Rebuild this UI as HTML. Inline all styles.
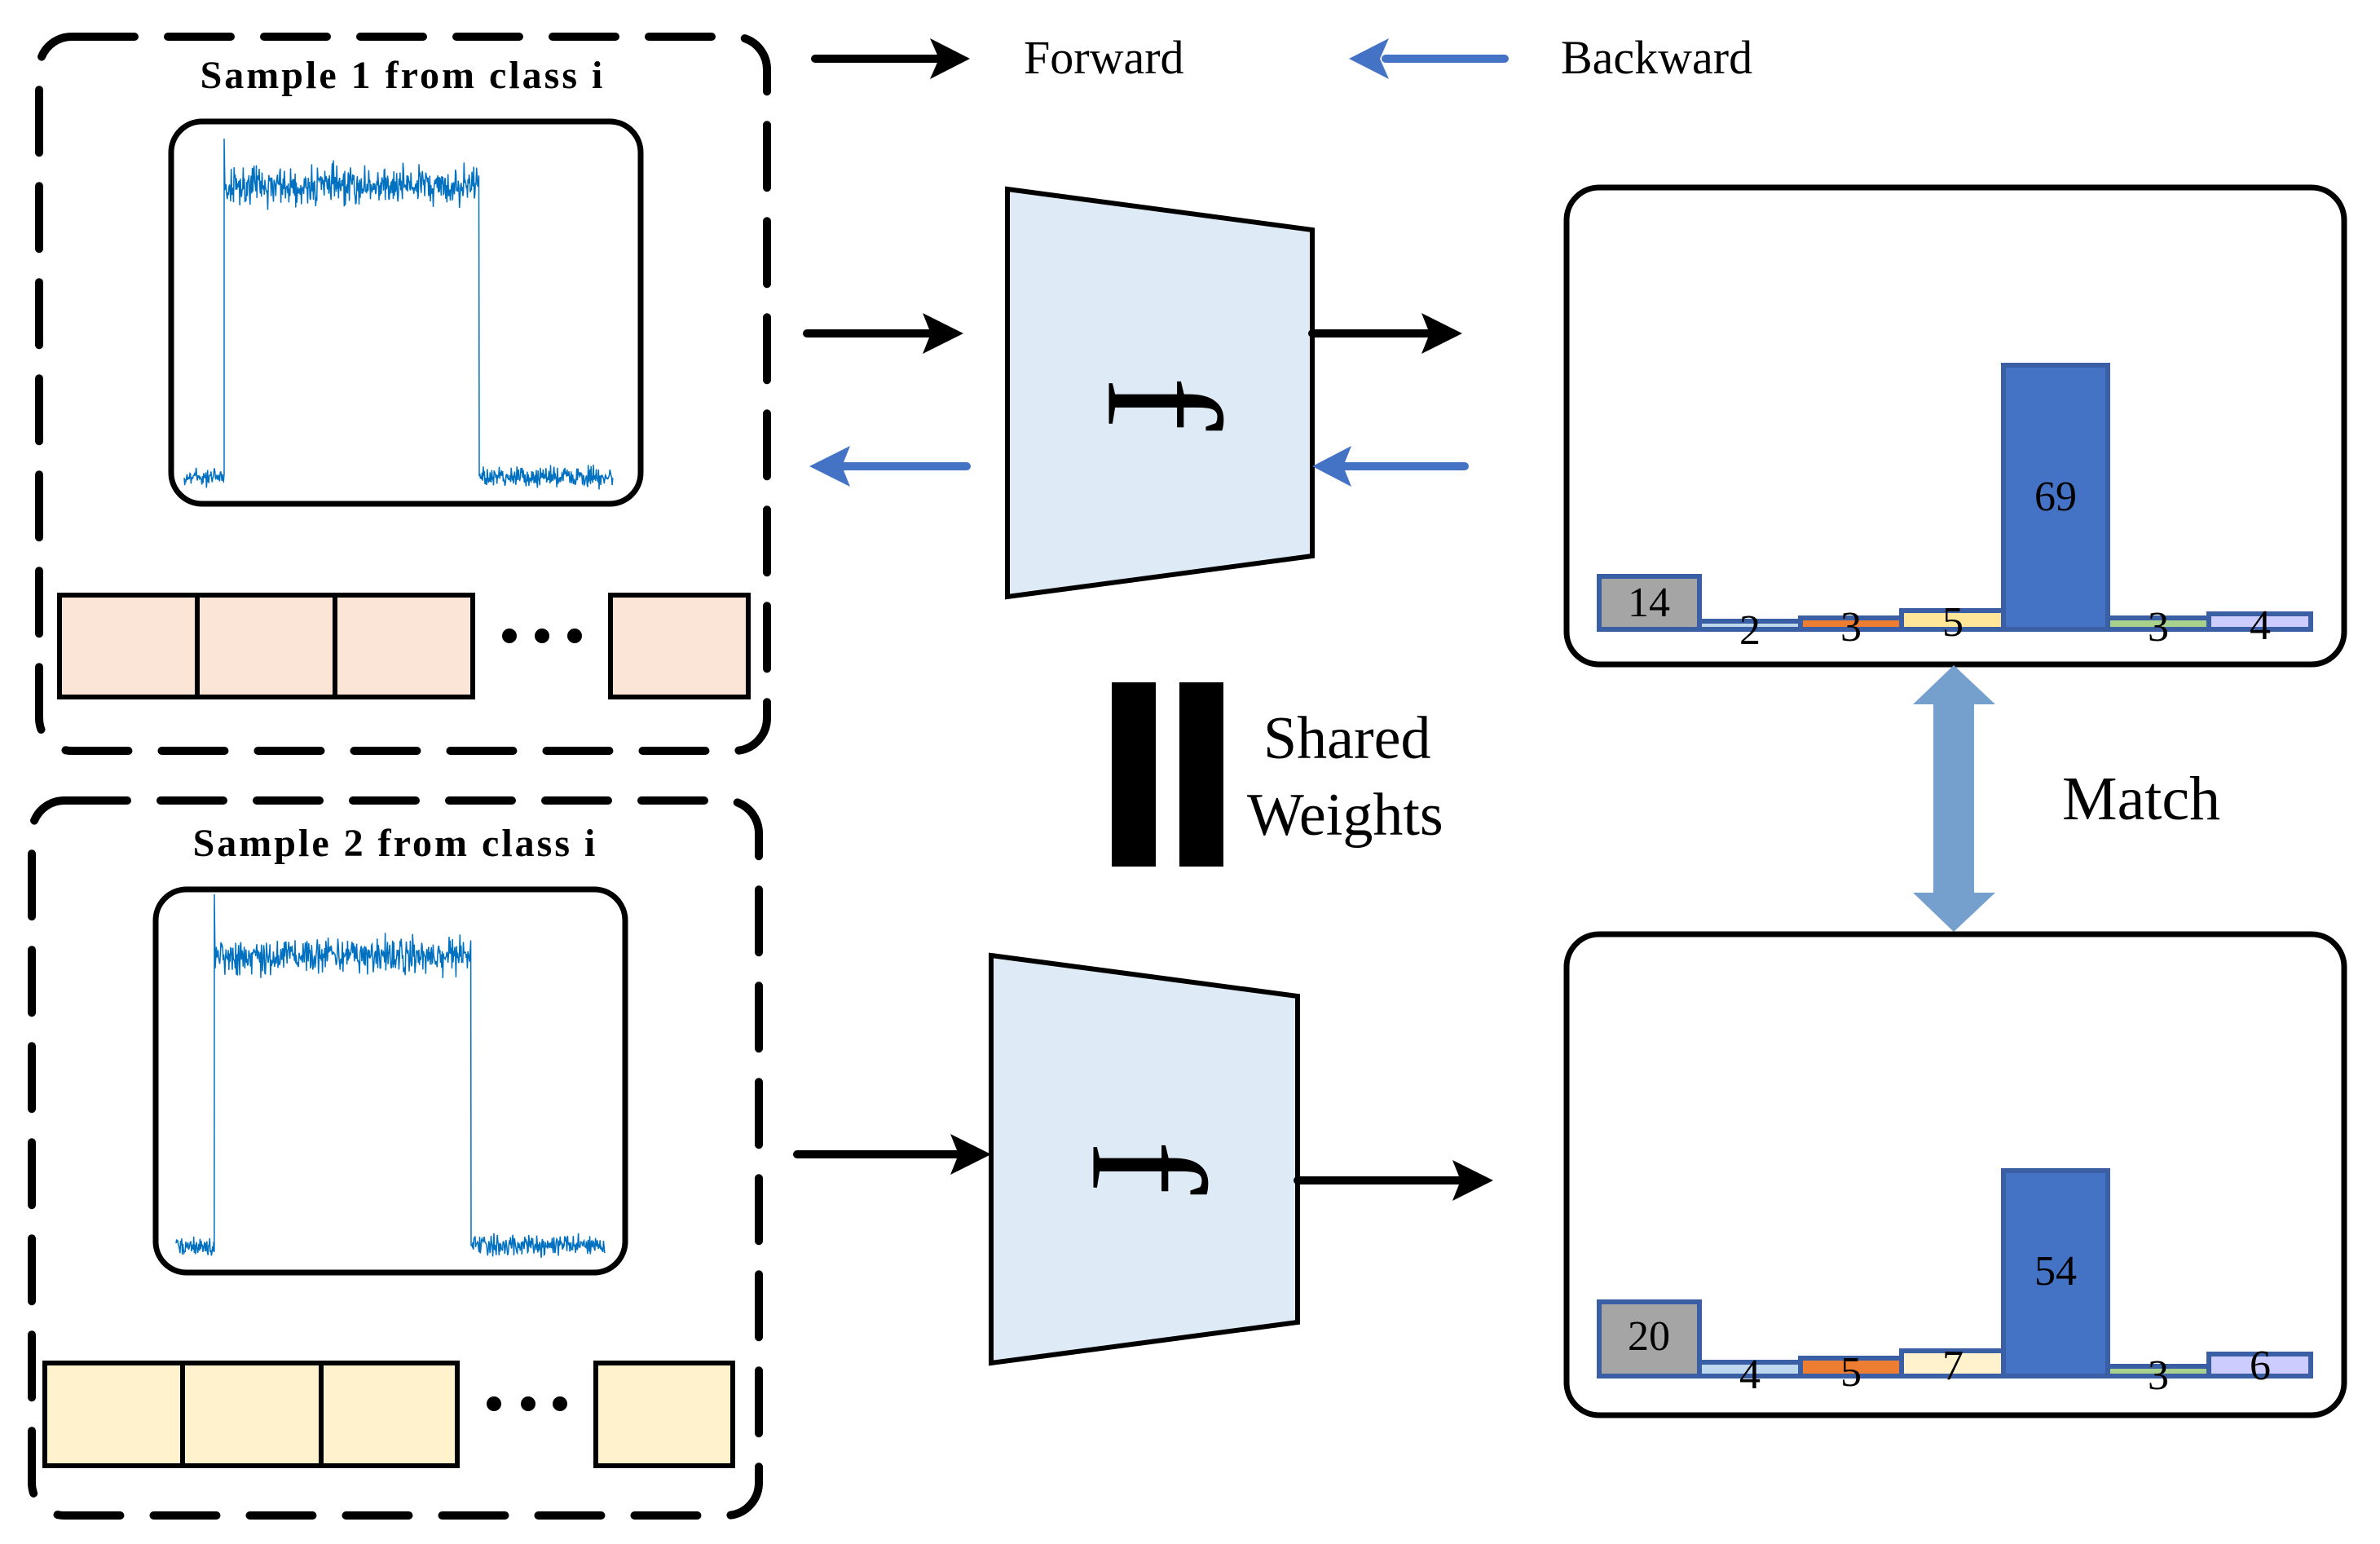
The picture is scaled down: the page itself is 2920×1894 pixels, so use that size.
<!DOCTYPE html>
<html><head><meta charset="utf-8"><style>
html,body{margin:0;padding:0;background:#fff;}
svg{display:block;}
text{font-family:"Liberation Serif",serif;}
</style></head><body>
<svg id="s" width="2920" height="1894" viewBox="0 0 2920 1894" xmlns="http://www.w3.org/2000/svg" font-family="Liberation Serif, serif">
<!-- dashed boxes -->
<rect x="48" y="45" width="893" height="876" rx="40" fill="none" stroke="#000" stroke-width="10" stroke-dasharray="77 41" stroke-linecap="round"/>
<rect x="39" y="982" width="892" height="877" rx="40" fill="none" stroke="#000" stroke-width="10" stroke-dasharray="77 41" stroke-linecap="round"/>
<text x="494" y="108" font-family="Liberation Serif, serif" font-size="48" font-weight="bold" letter-spacing="3" text-anchor="middle">Sample 1 from class i</text>
<text x="485" y="1050" font-family="Liberation Serif, serif" font-size="48" font-weight="bold" letter-spacing="3" text-anchor="middle">Sample 2 from class i</text>
<!-- signal boxes -->
<rect x="210" y="149" width="576" height="469" rx="38" fill="#fff" stroke="#000" stroke-width="7"/>
<rect x="191" y="1091" width="576" height="470" rx="38" fill="#fff" stroke="#000" stroke-width="7"/>
<polyline id="sig1" fill="none" stroke="#0070C0" stroke-width="1.5"/>
<polyline id="sig2" fill="none" stroke="#0070C0" stroke-width="1.5"/>
<!-- cells 1 -->
<g stroke="#000" stroke-width="6" fill="#FBE5D6">
<rect x="73" y="730" width="169" height="125"/><rect x="242" y="730" width="169" height="125"/><rect x="411" y="730" width="169" height="125"/><rect x="749" y="730" width="169" height="125"/>
</g>
<g fill="#000"><circle cx="625" cy="780" r="9"/><circle cx="665" cy="780" r="9"/><circle cx="705" cy="780" r="9"/></g>
<!-- cells 2 -->
<g stroke="#000" stroke-width="6" fill="#FFF2CC">
<rect x="55" y="1672" width="169" height="126"/><rect x="224" y="1672" width="170" height="126"/><rect x="394" y="1672" width="167" height="126"/><rect x="731" y="1672" width="168" height="126"/>
</g>
<g fill="#000"><circle cx="606" cy="1722" r="9"/><circle cx="648" cy="1722" r="9"/><circle cx="687" cy="1722" r="9"/></g>
<!-- legend -->
<line x1="1000" y1="72" x2="1150" y2="72" stroke="#000" stroke-width="10" stroke-linecap="round"/>
<polygon points="1141,47 1190,72 1141,97 1152,72" fill="#000"/>
<text x="1256" y="90" font-family="Liberation Serif, serif" font-size="58">Forward</text>
<line x1="1700" y1="72" x2="1846" y2="72" stroke="#4472C4" stroke-width="10" stroke-linecap="round"/>
<polygon points="1704,47 1655,72 1704,97 1693,72" fill="#4472C4"/>
<text x="1915" y="90" font-family="Liberation Serif, serif" font-size="58">Backward</text>
<!-- trapezoid 1 -->
<polygon points="1236,232 1610,282 1610,682 1236,732" fill="#DEEAF6" stroke="#000" stroke-width="6"/>
<text transform="translate(1427,495) rotate(90)" font-family="Liberation Serif, serif" font-size="200" text-anchor="middle" dominant-baseline="central">f</text>
<line x1="990" y1="409" x2="1150" y2="409" stroke="#000" stroke-width="10" stroke-linecap="round"/>
<polygon points="1132,384 1182,409 1132,434 1142,409" fill="#000"/>
<line x1="1610" y1="409" x2="1770" y2="409" stroke="#000" stroke-width="10" stroke-linecap="round"/>
<polygon points="1744,384 1794,409 1744,434 1754,409" fill="#000"/>
<line x1="1030" y1="572" x2="1186" y2="572" stroke="#4472C4" stroke-width="10" stroke-linecap="round"/>
<polygon points="1043,547 993,572 1043,597 1033,572" fill="#4472C4"/>
<line x1="1640" y1="572" x2="1797" y2="572" stroke="#4472C4" stroke-width="10" stroke-linecap="round"/>
<polygon points="1658,547 1610,572 1658,597 1648,572" fill="#4472C4"/>
<!-- shared weights -->
<rect x="1364" y="837" width="54" height="226" fill="#000"/>
<rect x="1447" y="837" width="54" height="226" fill="#000"/>
<text x="1550" y="930" font-family="Liberation Serif, serif" font-size="74">Shared</text>
<text x="1530" y="1024" font-family="Liberation Serif, serif" font-size="74">Weights</text>
<!-- trapezoid 2 -->
<polygon points="1216,1172 1592,1222 1592,1622 1216,1672" fill="#DEEAF6" stroke="#000" stroke-width="6"/>
<text transform="translate(1408,1432) rotate(90)" font-family="Liberation Serif, serif" font-size="200" text-anchor="middle" dominant-baseline="central">f</text>
<line x1="978" y1="1416" x2="1180" y2="1416" stroke="#000" stroke-width="10" stroke-linecap="round"/>
<polygon points="1166,1391 1216,1416 1166,1441 1176,1416" fill="#000"/>
<line x1="1592" y1="1448" x2="1800" y2="1448" stroke="#000" stroke-width="10" stroke-linecap="round"/>
<polygon points="1782,1423 1832,1448 1782,1473 1792,1448" fill="#000"/>
<!-- result box 1 -->
<rect x="1922" y="230" width="954" height="585" rx="40" fill="#fff" stroke="#000" stroke-width="7"/>
<g stroke="#3A5FA5" stroke-width="6">
<rect x="1962" y="707" width="123" height="65" fill="#A5A5A5"/>
<rect x="2085" y="762" width="124" height="10" fill="#BDD7EE"/>
<rect x="2209" y="758" width="124" height="14" fill="#ED7D31"/>
<rect x="2333" y="749" width="125" height="23" fill="#FFE699"/>
<rect x="2458" y="448" width="128" height="324" fill="#4472C4"/>
<rect x="2586" y="758" width="124" height="14" fill="#A9D18E"/>
<rect x="2710" y="753" width="125" height="19" fill="#CCCCFF"/>
</g>
<g font-size="52" text-anchor="middle" font-family="Liberation Serif, serif">
<text x="2023" y="756">14</text>
<text x="2147" y="790">2</text>
<text x="2271" y="786">3</text>
<text x="2396" y="780">5</text>
<text x="2522" y="626">69</text>
<text x="2648" y="786">3</text>
<text x="2773" y="784">4</text>
</g>
<!-- match arrow -->
<polygon points="2397,816 2448,864 2422,864 2422,1095 2448,1095 2397,1143 2347,1095 2372,1095 2372,864 2347,864" fill="#75A0CD"/>
<text x="2530" y="1005" font-family="Liberation Serif, serif" font-size="76">Match</text>
<!-- result box 2 -->
<rect x="1922" y="1146" width="954" height="590" rx="40" fill="#fff" stroke="#000" stroke-width="7"/>
<g stroke="#3A5FA5" stroke-width="6">
<rect x="1962" y="1597" width="123" height="91" fill="#A5A5A5"/>
<rect x="2085" y="1671" width="124" height="17" fill="#BDD7EE"/>
<rect x="2209" y="1666" width="124" height="22" fill="#ED7D31"/>
<rect x="2333" y="1657" width="125" height="31" fill="#FFF2CC"/>
<rect x="2458" y="1436" width="128" height="252" fill="#4472C4"/>
<rect x="2586" y="1676" width="124" height="12" fill="#A9D18E"/>
<rect x="2710" y="1661" width="125" height="27" fill="#CCCCFF"/>
</g>
<g font-size="52" text-anchor="middle" font-family="Liberation Serif, serif">
<text x="2023" y="1656">20</text>
<text x="2147" y="1703">4</text>
<text x="2271" y="1700">5</text>
<text x="2396" y="1692">7</text>
<text x="2522" y="1576">54</text>
<text x="2648" y="1704">3</text>
<text x="2773" y="1692">6</text>
</g>
</svg>
<script>
(function(){
var seed=12345;function r(){seed=(seed*1103515245+12345)%2147483648;return seed/2147483648;}
function n(a){return (r()+r()+r()-1.5)*a;}
function sig(id,x0,xr,xd,x2,yl,yh,ys){
 var p=[];
 for(var x=x0;x<xr;x+=0.7)p.push(x.toFixed(1)+","+(yl+n(12)).toFixed(1));
 p.push(xr+","+ys);
 for(var x=xr+1;x<xd;x+=0.7)p.push(x.toFixed(1)+","+(yh+n(22)).toFixed(1));
 for(var x=xd;x<x2;x+=0.7)p.push(x.toFixed(1)+","+(yl+n(12)).toFixed(1));
 document.getElementById(id).setAttribute("points",p.join(" "));
}
sig("sig1",226,275,588,752,585,228,170);
sig("sig2",216,263,578,743,1528,1172,1097);
})();
</script>
</body></html>
